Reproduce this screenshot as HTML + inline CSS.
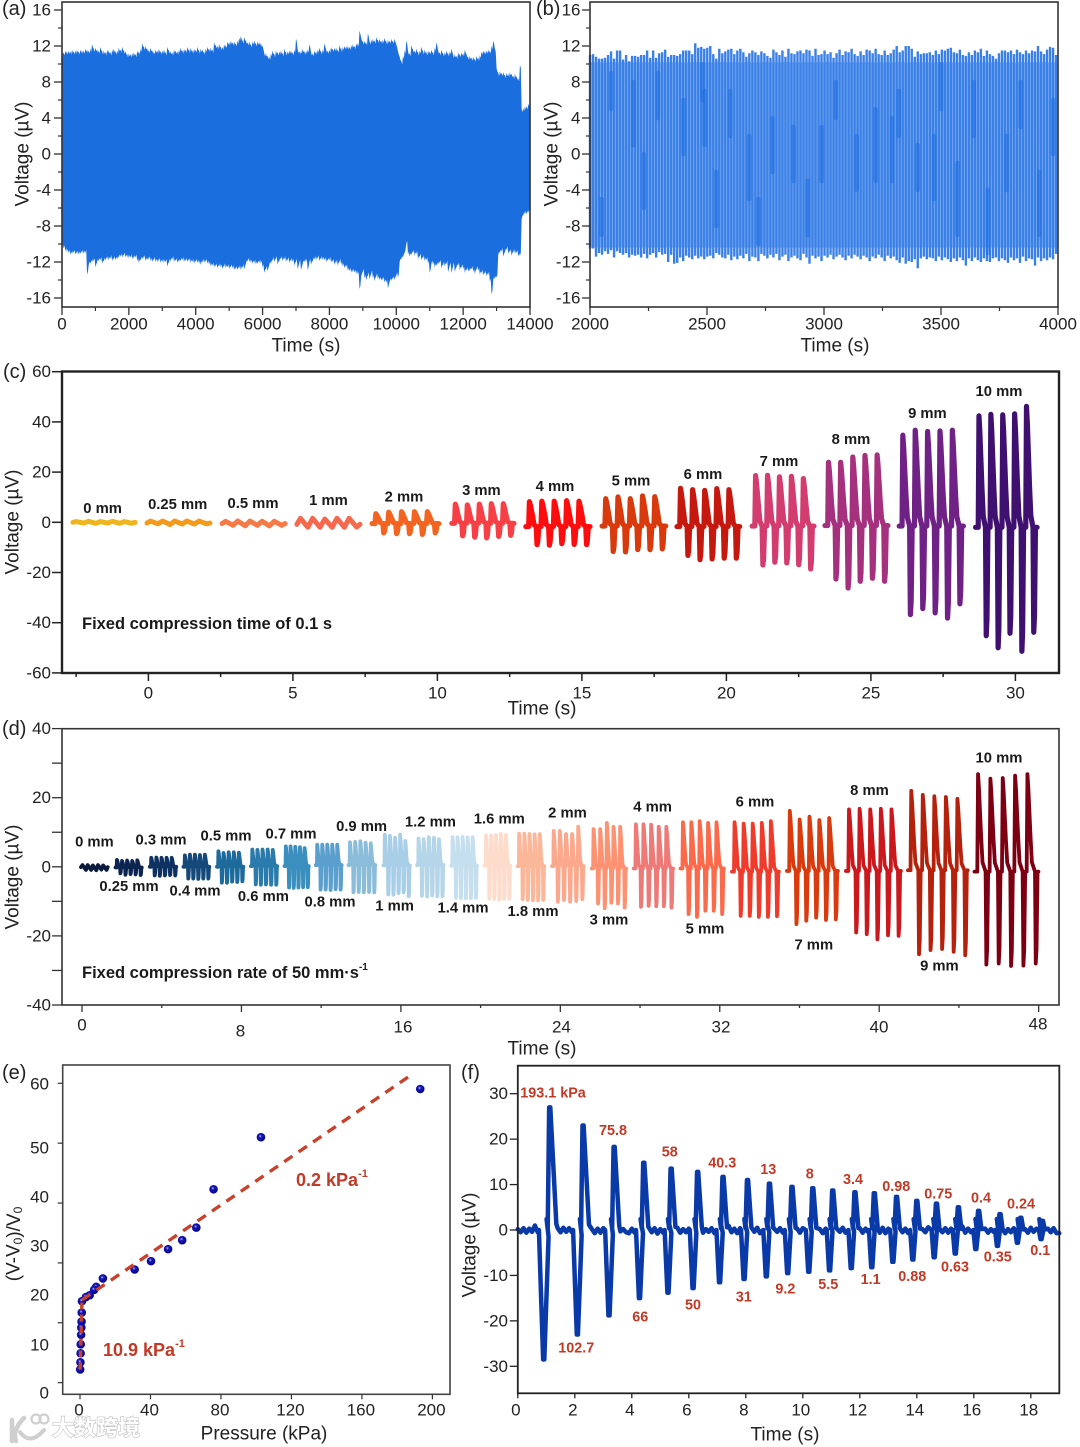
<!DOCTYPE html>
<html lang="en">
<head>
<meta charset="utf-8">
<title>Voltage response charts</title>
<style>
html,body{margin:0;padding:0;background:#fff;}
svg{display:block;font-family:"Liberation Sans","Noto Sans CJK SC",sans-serif;fill:#222;}
.tk{font-size:17px;}
.ti{font-size:19px;}
.pl{font-size:20px;}
.bl{font-size:14.8px;font-weight:bold;fill:#1a1a1a;}
.rl{font-size:14.4px;font-weight:bold;fill:#c23a26;}
.fx{font-size:16.5px;font-weight:bold;fill:#1a1a1a;}
.sl{font-size:18px;font-weight:bold;fill:#c23a26;}
text{dominant-baseline:central;}
</style>
</head>
<body>
<svg id="fig" xmlns="http://www.w3.org/2000/svg" width="1080" height="1447" viewBox="0 0 1080 1447">
<rect width="1080" height="1447" fill="#fff"/>

<g id="panel-a">
  <g id="a-marks"></g>
  <rect x="62" y="2" width="468" height="305" fill="none" stroke="#333" stroke-width="1.6"/>
  <g id="a-axes"></g>
  <text class="pl" x="2" y="9">(a)</text>
  <text class="ti" transform="translate(23,154) rotate(-90)" text-anchor="middle">Voltage (µV)</text>
  <text class="ti" x="306" y="346" text-anchor="middle">Time (s)</text>
</g>

<g id="panel-b">
  <g id="b-marks"></g>
  <rect x="590" y="2" width="468" height="305" fill="none" stroke="#333" stroke-width="1.6"/>
  <g id="b-axes"></g>
  <text class="pl" x="536" y="9">(b)</text>
  <text class="ti" transform="translate(552,154) rotate(-90)" text-anchor="middle">Voltage (µV)</text>
  <text class="ti" x="835" y="346" text-anchor="middle">Time (s)</text>
</g>

<g id="panel-c">
  <g id="c-marks"></g>
  <rect x="62" y="371.5" width="997" height="301.5" fill="none" stroke="#222" stroke-width="2.4"/>
  <g id="c-axes"></g>
  <text class="pl" x="3" y="372">(c)</text>
  <text class="ti" transform="translate(13,522) rotate(-90)" text-anchor="middle">Voltage (µV)</text>
  <text class="ti" x="542" y="709" text-anchor="middle">Time (s)</text>
  <text class="fx" x="82" y="624" textLength="250">Fixed compression time of 0.1 s</text>
  <g class="bl" text-anchor="middle">
    <text class="bl" x="102.6" y="509">0 mm</text>
    <text class="bl" x="177.7" y="505">0.25 mm</text>
    <text class="bl" x="253" y="504">0.5 mm</text>
    <text class="bl" x="328.5" y="501">1 mm</text>
    <text class="bl" x="404" y="497.7">2 mm</text>
    <text class="bl" x="481.4" y="491">3 mm</text>
    <text class="bl" x="555" y="487">4 mm</text>
    <text class="bl" x="631" y="481.7">5 mm</text>
    <text class="bl" x="703" y="475">6 mm</text>
    <text class="bl" x="779" y="462">7 mm</text>
    <text class="bl" x="851" y="440">8 mm</text>
    <text class="bl" x="927.4" y="414">9 mm</text>
    <text class="bl" x="999" y="392">10 mm</text>
  </g>
</g>

<g id="panel-d">
  <g id="d-marks"></g>
  <rect x="62" y="728.7" width="997" height="276.3" fill="none" stroke="#333" stroke-width="1.6"/>
  <g id="d-axes"></g>
  <g class="tk" text-anchor="middle">
    <text class="tk" x="82" y="1025">0</text>
    <text class="tk" x="240.5" y="1031">8</text>
    <text class="tk" x="403" y="1027">16</text>
    <text class="tk" x="561.4" y="1027">24</text>
    <text class="tk" x="721" y="1027">32</text>
    <text class="tk" x="879" y="1027">40</text>
    <text class="tk" x="1038" y="1024">48</text>
  </g>
  <text class="pl" x="2" y="729">(d)</text>
  <text class="ti" transform="translate(13,877) rotate(-90)" text-anchor="middle">Voltage (µV)</text>
  <text class="ti" x="542" y="1049" text-anchor="middle">Time (s)</text>
  <text class="fx" x="82" y="973">Fixed compression rate of 50 mm·s<tspan font-size="10" dy="-6">-1</tspan></text>
  <g class="bl" text-anchor="middle">
    <text class="bl" x="94.4" y="842.3">0 mm</text>
    <text class="bl" x="129" y="887">0.25 mm</text>
    <text class="bl" x="161" y="840.3">0.3 mm</text>
    <text class="bl" x="195" y="891.3">0.4 mm</text>
    <text class="bl" x="226" y="836.3">0.5 mm</text>
    <text class="bl" x="263.4" y="897">0.6 mm</text>
    <text class="bl" x="291" y="834.3">0.7 mm</text>
    <text class="bl" x="330" y="902.7">0.8 mm</text>
    <text class="bl" x="361.6" y="827">0.9 mm</text>
    <text class="bl" x="394.6" y="906.7">1 mm</text>
    <text class="bl" x="430.4" y="822.3">1.2 mm</text>
    <text class="bl" x="463" y="908.7">1.4 mm</text>
    <text class="bl" x="499.3" y="819.3">1.6 mm</text>
    <text class="bl" x="533" y="912">1.8 mm</text>
    <text class="bl" x="567.5" y="813.7">2 mm</text>
    <text class="bl" x="609" y="920.7">3 mm</text>
    <text class="bl" x="652.6" y="807.3">4 mm</text>
    <text class="bl" x="705" y="929.3">5 mm</text>
    <text class="bl" x="755" y="802.3">6 mm</text>
    <text class="bl" x="813.8" y="945.7">7 mm</text>
    <text class="bl" x="869.5" y="791">8 mm</text>
    <text class="bl" x="939.4" y="966.3">9 mm</text>
    <text class="bl" x="999" y="758.7">10 mm</text>
  </g>
</g>

<g id="panel-e">
  <rect x="62.7" y="1065" width="387.3" height="329.3" fill="none" stroke="#444" stroke-width="1.6"/>
  <g id="e-axes"></g>
  <g id="e-marks"></g>
  <g class="tk" text-anchor="end">
    <text class="tk" x="49" y="1084">60</text>
    <text class="tk" x="49" y="1148">50</text>
    <text class="tk" x="49" y="1197">40</text>
    <text class="tk" x="49" y="1246">30</text>
    <text class="tk" x="49" y="1295">20</text>
    <text class="tk" x="49" y="1345">10</text>
    <text class="tk" x="49" y="1393">0</text>
  </g>
  <text class="pl" x="2" y="1073">(e)</text>
  <text class="ti" transform="translate(14,1244) rotate(-90)" text-anchor="middle">(V-V<tspan font-size="12" dy="4">0</tspan><tspan dy="-4">)/V</tspan><tspan font-size="12" dy="4">0</tspan></text>
  <text class="ti" x="264" y="1434" text-anchor="middle">Pressure (kPa)</text>
  <text class="sl" x="296" y="1180">0.2 kPa<tspan font-size="11" dy="-6">-1</tspan></text>
  <text class="sl" x="103" y="1350">10.9 kPa<tspan font-size="11" dy="-6">-1</tspan></text>
</g>

<g id="panel-f">
  <g id="f-marks"></g>
  <rect x="517.8" y="1065.7" width="541.5" height="327.6" fill="none" stroke="#222" stroke-width="1.8"/>
  <g id="f-axes"></g>
  <text class="pl" x="461" y="1073">(f)</text>
  <text class="ti" transform="translate(470,1245) rotate(-90)" text-anchor="middle">Voltage (µV)</text>
  <text class="ti" x="785" y="1435" text-anchor="middle">Time (s)</text>
  <g class="rl" text-anchor="middle">
    <text class="rl" x="553" y="1093.3">193.1 kPa</text>
    <text class="rl" x="613" y="1131">75.8</text>
    <text class="rl" x="669.8" y="1152.3">58</text>
    <text class="rl" x="722.2" y="1163.7">40.3</text>
    <text class="rl" x="768.2" y="1170">13</text>
    <text class="rl" x="809.8" y="1174.3">8</text>
    <text class="rl" x="853" y="1180">3.4</text>
    <text class="rl" x="896.2" y="1187">0.98</text>
    <text class="rl" x="938.2" y="1194.3">0.75</text>
    <text class="rl" x="981" y="1198.7">0.4</text>
    <text class="rl" x="1021" y="1204.3">0.24</text>
    <text class="rl" x="576.2" y="1348.7">102.7</text>
    <text class="rl" x="640.2" y="1317.3">66</text>
    <text class="rl" x="693" y="1305.3">50</text>
    <text class="rl" x="743.8" y="1297.7">31</text>
    <text class="rl" x="785.4" y="1289.7">9.2</text>
    <text class="rl" x="828.2" y="1285">5.5</text>
    <text class="rl" x="870.6" y="1280">1.1</text>
    <text class="rl" x="912.2" y="1277">0.88</text>
    <text class="rl" x="955" y="1267.3">0.63</text>
    <text class="rl" x="997.8" y="1257.7">0.35</text>
    <text class="rl" x="1040.2" y="1251">0.1</text>
  </g>
</g>

<g>
  <g fill="none" stroke="#cfcfcf" stroke-width="3" stroke-linecap="round">
    <path d="M12 1420 L12 1441 M16 1441 Q12 1430 24 1418" stroke-width="4.5"/>
    <path d="M20 1432 Q30 1446 44 1430" stroke-width="4"/>
    <circle cx="36" cy="1419" r="4.5" stroke-width="2.2"/>
    <circle cx="44" cy="1419" r="4.5" stroke-width="2.2"/>
  </g>
  <text x="52" y="1428" font-size="22" textLength="88" font-weight="bold" style="font-family:'Liberation Sans','Noto Sans CJK SC',sans-serif;fill:#fff;stroke:#c4c4c4;stroke-width:1.3px;paint-order:stroke;">大数跨境</text>
</g>

<script>
/* ---------- panel a data: envelope read every 50 s ---------- */
const aStep = 50;
const aTop = [
11.4,11.3,11.5,11.4,11.5,11.4,11.6,11.4,11.5,11.6,11.4,11.6,11.5,11.5,11.7,11.6,11.5,11.7,12.2,11.7,
11.8,11.6,11.5,11.9,11.4,11.5,11.3,11.6,11.5,11.3,11.6,11.7,11.4,11.5,11.8,11.6,11.9,11.5,11.4,11.1,
11.2,11.1,11.2,11.3,11.1,11.5,11.4,11.7,12.3,11.9,12,11.7,11.6,11.8,11.5,11.4,11.6,11.5,11.7,11.4,
11.5,11.6,11.3,11.9,11.5,11.4,11.3,11.6,11.5,11.4,11.6,11.8,11.5,11.7,11.6,11.9,11.6,11.8,11.5,11.7,
11.6,11.9,11.5,11.7,11.6,11.4,11.7,11.9,11.7,11.8,11.6,12.4,12.1,12,12.2,11.9,11.9,12.2,12.1,12.5,
12.4,12.6,12.4,12.5,12.3,12.6,12.9,13.1,12.6,13,12.6,12.4,12.5,12.2,12.5,12.6,12.3,12.5,12.4,12.3,
12,11.2,11.2,10.9,10.8,11.2,11.5,11.1,11.5,11.3,11.4,11.5,11.2,11.7,11.3,11.4,11.5,11.5,11.3,11.6,
12.8,11.6,11.4,11.5,11.7,11.4,11.5,11.6,12.2,11.3,11.2,11.5,11.4,11.6,11.8,11.4,11.6,12.3,11.6,11.5,
11.6,11.9,11.7,11.8,11.8,11.6,12.1,11.7,11.9,12,12,12,11.9,12.1,12.2,12,12.3,12.3,13.7,12.9,
12.5,12.6,12.4,13.4,12.5,12.7,12.8,12.6,13,12.7,12.8,12.6,12.7,12.9,12.5,12.7,12.6,12.8,12.6,12.8,
12.2,11.4,10.8,10.3,10.9,11.5,12.6,11.4,11.2,12.1,11.6,11.5,11.7,11.3,11.5,11.9,11.4,11.6,11.3,11.5,
11.4,11.6,11.3,11.8,12.4,11.5,11.3,11.6,11.2,11.3,11.5,11.2,11.4,11.7,11,11.1,10.9,11.3,11.1,11.3,
11.2,11.6,11.1,10.8,10.9,10.7,10.8,10.6,10.9,10.7,11,11.4,11.5,11.4,11.5,11.6,11.5,12,12.6,11.7,
9.5,9,9.2,9,9.1,8.8,9,8.9,9.1,8.9,8.7,8.9,8.6,8.4,9.9,5,5.1,5.3,5.3,5.6,5.7];
const aBottom = [
-10.4,-10.5,-10.8,-10.9,-11,-11.2,-11.1,-11,-11.2,-11.1,-11.2,-11.1,-11,-11.1,-11,-13.4,-12.3,-12.2,-12,-11.9,
-12.6,-12,-11.9,-11.8,-12.2,-11.9,-11.8,-11.7,-11.8,-11.6,-11.9,-11.7,-11.8,-11.7,-11.5,-11.4,-11.5,-11.3,-11.5,-11.5,
-11.6,-11.5,-11.7,-11.6,-11.5,-11.9,-12.1,-11.8,-11.7,-11.6,-11.9,-11.8,-11.7,-11.9,-12,-11.8,-12,-12,-11.9,-12.1,
-12,-12.1,-12,-12.5,-12,-11.9,-11.7,-12,-11.9,-12.1,-12,-11.9,-11.8,-12,-11.9,-12,-11.9,-12.1,-12,-12.2,
-12,-12.1,-12.2,-12.3,-12,-12.1,-12,-12.2,-12.3,-12.5,-12.4,-12.6,-12.5,-12.7,-12.5,-12.6,-12.8,-12.5,-12.7,-12.6,
-12.8,-12.6,-12.7,-12.9,-12.8,-12.9,-12.7,-12.9,-12.6,-12.8,-12.2,-11.9,-12,-12.1,-12.2,-12.1,-12.3,-12.2,-12.1,-12.2,
-12.6,-13.2,-12.8,-13,-12.3,-12.2,-11.8,-12,-11.7,-12.3,-11.9,-11.7,-11.9,-11.7,-12,-11.8,-12.1,-11.9,-12,-12.4,
-12,-12.8,-12.1,-12.9,-12.2,-12,-12,-12.9,-12,-12.3,-11.9,-11.7,-11.8,-11.6,-11.9,-11.7,-11.8,-11.8,-12,-11.9,
-11.8,-12.1,-12,-12.3,-12.1,-12.4,-12,-12.3,-12.5,-12.7,-12.6,-13,-13,-13.2,-13.1,-13.2,-13.3,-13.4,-15,-13.6,
-13.1,-13.8,-14,-13.5,-13.9,-13.3,-13.8,-14.1,-13.6,-13.9,-14,-14.1,-14,-14.3,-14.3,-14.9,-14.2,-14.1,-13.9,-14,
-13.5,-13.7,-12,-11.7,-11.5,-11,-10,-11.2,-11.4,-11.2,-11,-11.3,-11.1,-11.7,-11.4,-11.8,-11.6,-11.9,-11.8,-12.2,
-13.2,-12.2,-12.3,-12.6,-12.4,-12.3,-12.1,-12.7,-12.3,-12.5,-12.2,-13.1,-12.4,-13.2,-12.4,-13.1,-12.6,-12.4,-12.9,-12.6,
-12.8,-13.2,-12.9,-13.1,-13,-12.8,-13.1,-13.3,-12.8,-13,-13.4,-13.2,-13.5,-13.3,-13.6,-13.4,-14.2,-15.6,-14,-13.9,
-13.7,-11.2,-11,-10.8,-11.4,-10.9,-10.6,-11.1,-10.9,-11.3,-10.9,-11.1,-11,-11.4,-11.3,-7.2,-6.8,-6.7,-6.7,-6.5,-6.4];
const aYTicks = [16,12,8,4,0,-4,-8,-12,-16];
const aYMinor = [14,10,6,2,-2,-6,-10,-14];
const aXTicks = [0,2000,4000,6000,8000,10000,12000,14000];
const aXMinor = [1000,3000,5000,7000,9000,11000,13000];

/* ---------- panel b data: one top and bottom per cycle ---------- */
const bStart = 2000;
const bCycle = 12.85;
const bTop = [
11,11.1,10.8,10.6,10.6,10.7,11,11.4,10.6,11.5,11.5,10.5,11,10.3,10.9,10.9,10.8,11,11,11.5,
10.7,11.5,10.7,11.2,11.3,11.6,10.8,11,11,10.9,11.1,11.5,11.5,11.5,11.1,12.3,11.8,11.9,11.7,11.8,
12,11.1,10.6,11.7,11.2,11.4,11.6,11.7,11.1,11.5,11.7,11.3,10.8,11.2,11.5,11.3,11,11.4,11.2,10.9,
10.7,11.6,11.3,11,11.5,10.8,11.7,11.2,11.1,11.4,11.5,11.2,11.6,11.5,10.9,11.7,11,11.1,11.5,11.1,
11.3,10.7,11.2,11.6,11,11.4,11.3,11.7,11.1,10.9,11.4,11,11.6,11.5,11.2,11.7,11.1,11,11.5,11,
11.2,11.6,12,11.3,11.5,12,12,11.7,10.8,11.4,11.1,11.2,11.2,11.3,11,11.5,11.1,11.6,11.5,11.7,
11.8,11.3,11.2,11.6,11,10.9,11.3,11,11.5,11.3,11.7,10.9,11.5,11.1,10.9,10.6,11.2,11.5,11.5,11.3,
11.5,11.1,11.6,11.3,11.1,11.5,11.2,11.5,11.4,12,11.4,11.1,11.6,11.9,11.8,11];
const bBottom = [
-10.5,-10.5,-11.4,-11,-11.2,-10.8,-11.1,-10.7,-11.5,-10.8,-11,-11.2,-11,-11.5,-11.2,-11.3,-11.2,-11.5,-11.1,-11.6,
-11.2,-11,-11.5,-10.9,-11.2,-11.1,-12,-11.2,-12.2,-12.1,-11.5,-11.9,-11.3,-11.5,-11.7,-11.3,-11.6,-11.4,-11.7,-11.4,
-11.3,-11.6,-11,-11.2,-11.5,-11.6,-11.2,-11.8,-11.4,-11.7,-11.3,-11.6,-11.1,-11.9,-11.4,-11.5,-11.9,-11.1,-11.3,-11.6,
-11.2,-11.5,-11.1,-11.8,-11.4,-11.2,-11.9,-11.5,-11.3,-11.6,-11.8,-11.1,-11.5,-12.2,-11.3,-11.6,-11.4,-11.9,-11.3,-11.5,
-11.2,-11.7,-11.4,-11.2,-11.5,-11.8,-11.3,-11.6,-11.2,-11.4,-11.7,-11.3,-11.5,-11.9,-11.4,-11.6,-11.2,-11.5,-11.9,-11.3,
-11.6,-11.4,-11.8,-12.1,-11.5,-12.2,-11.9,-12,-11.7,-12.7,-11.6,-11.4,-11.7,-11.5,-11.6,-11.9,-11.4,-11.8,-11.5,-11.7,
-12,-11.6,-11.9,-11.5,-11.8,-12.4,-11.6,-11.9,-11.5,-11.8,-12,-11.6,-11.9,-12,-11.6,-11.5,-11.9,-11.6,-11.8,-12.1,
-11.5,-11.8,-11.6,-12.1,-11.4,-11.9,-11.6,-11.7,-12.4,-11.5,-11.9,-11.6,-11.8,-11.5,-11.7,-11.1];
const bStreakTime = [2050,2090,2185,2230,2290,2400,2480,2490,2540,2600,2680,2720,2780,2870,2930,2990,3050,3140,3220,3290,3320,3400,3470,3500,3570,3640,3700,3780,3840,3920,3980];
const bStreakHigh = [-5,9,8,0,9,6,10,7,-2,7,2,-5,4,3,-3,3,8,2,5,4,7,1,2,10,-1,8,-4,2,8,-2,6];
const bStreakLow = [-9,5,1,-6,4,0,6,1,-8,2,-5,-10,-2,-3,-9,-3,4,-4,-3,-3,2,-4,-5,5,-9,2,-11,-4,3,-9,0];
const bYTicks = [16,12,8,4,0,-4,-8,-12,-16];
const bYMinor = [14,10,6,2,-2,-6,-10,-14];
const bXTicks = [2000,2500,3000,3500,4000];
const bXMinor = [2250,2750,3250,3750];

/* ---------- panel c data ---------- */
const cStart = [-2.61,-0.05,2.55,5.14,7.74,10.5,13.06,15.7,18.29,20.89,23.41,25.98,28.62];
const cEnd = [-0.46,2.13,4.73,7.32,10.05,12.65,15.28,17.9,20.46,23.03,25.59,28.2,30.75];
const cBase = [0,-0.3,-0.5,-0.8,-0.5,-0.4,-1.7,-1.5,-1.7,-1.5,-1.3,-1.5,-2];
const cPeaks = [
[0.3,0.4,0.3,0.4,0.3],[0.5,0.5,0.5,0.5,0.5],[0.4,0.5,0.5,0.4,0.4],[1.6,1.6,1.3,1.6,1.6],
[3.4,4,4.2,4.2,4.2],[7.2,6.9,7.2,7.4,7.4],[8.2,8.4,8.4,8.6,8.4],[9.4,10.1,9.4,10.5,10.2],
[13.5,13,12.7,13.4,13],[18.6,18.7,18.1,18.3,17.4],[23.9,23.9,26,26.6,26.8],
[34.7,36.7,36.2,36.4,36.7],[42.4,43,42.8,43.2,46.2]];
const cTroughs = [
[-0.3,-0.4,-0.3,-0.4,-0.4],[-0.6,-0.9,-0.7,-0.7,-0.6],[-1.2,-1.4,-1.2,-1.4,-1.2],[-2,-2,-2,-2,-1.9],
[-4.2,-4.5,-4.5,-4.8,-4.2],[-5.4,-5.9,-6.2,-5.6,-5.2],[-8.9,-9.1,-8.5,-8.8,-8.9],[-11.6,-11.8,-10.9,-10.9,-10.6],
[-13.2,-14.9,-14.6,-14.3,-14.3],[-17,-15.9,-16.2,-16.9,-18.6],[-22.6,-26.2,-23.5,-22.3,-23.5],
[-36.8,-34.4,-36.1,-38.2,-32.5],[-45.2,-50,-44.2,-51.4,-43.8]];
const cColors = ["#eeb61c","#f49a1a","#f57a45","#f56a4f","#f2641f","#f74045","#fd0d0d","#d8390d","#c5190f","#d23c6e","#a5307e","#6f2186","#3f106f"];
const cNames = ["0mm","0.25mm","0.5mm","1mm","2mm","3mm","4mm","5mm","6mm","7mm","8mm","9mm","10mm"];
const cYTicks = [60,40,20,0,-20,-40,-60];
const cXTicks = [0,5,10,15,20,25,30];
const cXMinor = [-2.5,2.5,7.5,12.5,17.5,22.5,27.5];

/* ---------- panel d data ---------- */
const dStart = [-0.05,1.68,3.40,5.09,6.77,8.47,10.16,11.73,13.37,15.12,16.81,18.52,20.2,21.86,23.58,25.57,27.68,30.03,32.61,35.37,38.33,41.44,44.78];
const dEnd = [1.29,3.0,4.73,6.39,8.1,9.8,11.38,13.03,14.72,16.45,18.14,19.82,21.49,23.2,25.17,27.3,29.66,32.21,34.97,37.93,41.09,44.44,47.99];
const dBase = [-0.1,-0.2,0,0,0,0.2,0.2,0.5,0.5,0.4,0.5,0.3,0.3,0.2,0.2,-0.5,-0.5,-0.5,-1.4,-1.2,-1.2,-1,-1.4];
const dPeaks = [
[0.5,0.5,0.4,0.5,0.4],[2,1.7,1.8,1.7,1.9],[2.6,2.7,2.6,2.6,2.6],[3.3,3.5,3.5,3.4,3.5],
[4.5,4,4.2,4.2,4.1],[5,4.9,5,5,4.9],[5.9,5.9,5.8,5.7,5.4],[6.4,6.4,6.4,6.4,6.4],
[7.1,7.2,7.4,7,6.8],[9.3,9,8.4,9.3,7.5],[8.2,8,8.6,8.4,8],[8.6,8.5,8.7,8.5,8.6],
[9.1,9.1,9.2,9.5,9.2],[9.6,9.6,9.5,9.4,9.5],[10.4,10.4,9.5,9.5,11.6],[10.9,10.9,12.7,11.6,11.6],
[12.3,12.3,12.2,11.6,11.6],[12.9,12.9,13.2,12.7,12.9],[12.9,12.5,12.5,12.7,13.2],[16.2,13.7,14.5,13.5,14.1],
[16.6,16.8,16.6,16.8,16.6],[22,20.8,20.4,20.2,19.7],[26.8,25.5,25.7,26.4,26.8]];
const dTroughs = [
[-0.9,-0.9,-1,-0.8,-0.9],[-1.9,-2.3,-2.1,-2.2,-2.4],[-2.5,-2.6,-2.5,-2.4,-2.5],[-3.4,-3.4,-3.5,-3.4,-3.4],
[-4.6,-4.6,-4.3,-4.4,-4.2],[-5.1,-5.2,-5.1,-5.2,-5.2],[-6,-6.1,-6,-5.9,-5.9],[-6.6,-6.6,-6.7,-6.5,-6.6],
[-7.4,-7.3,-7.4,-7.3,-7.4],[-8,-8.1,-7.6,-7.4,-8.5],[-8.4,-8.6,-8.3,-8.5,-8.5],[-9,-9.1,-9.1,-9.1,-9],
[-9.2,-9.3,-9.5,-9.3,-9.2],[-9.4,-9.6,-9.7,-9.7,-9.6],[-10.1,-9.6,-10.1,-9.9,-9.4],[-10.6,-12,-10.4,-10.6,-11.8],
[-11.6,-11.3,-11.4,-11.4,-11.8],[-13.7,-14.5,-12.7,-12.7,-13.7],[-14.2,-14.2,-14.5,-14.5,-14.3],[-16.6,-15.6,-14.7,-15.4,-15.2],
[-19,-19.5,-21,-19.8,-20],[-25.3,-24.1,-23.8,-24.6,-25.6],[-28.3,-28,-28.7,-28.6,-28]];
const dColors = ["#0a1a3c","#0c2550","#0d3262","#14497a","#1d6a9c","#2a7bab","#3b8fbf","#5a9fcd","#8bbddb","#a9cfe8","#b5d5e8","#c6dfee","#fddccb","#fbb79a","#fca88c","#fc9272","#ee7a78","#fb6a4a","#ef3b2c","#d93a0e","#cb181d","#b4210c","#7d0012"];
const dNames = ["0mm","0.25mm","0.3mm","0.4mm","0.5mm","0.6mm","0.7mm","0.8mm","0.9mm","1mm","1.2mm","1.4mm","1.6mm","1.8mm","2mm","3mm","4mm","5mm","6mm","7mm","8mm","9mm","10mm"];
const dYTicks = [40,30,20,10,0,-10,-20,-30,-40];
const dYLabels = [40,20,0,-20,-40];
const dXTicks = [0,8,16,24,32,40,48];
const dXMinor = [4,12,20,28,36,44];

/* ---------- panel e data ---------- */
const ePressure = [193.1,102.7,75.8,66,58,50,40.3,31,13,9.2,8,5.5,3.4,1.1,0.98,0.88,0.75,0.63,0.4,0.35,0.24,0.1];
const eResponse = [59.05,51,42.3,35.9,33.8,32.3,30.3,28.9,27.4,26,25.5,24.6,24.3,23.6,21.7,20.2,19.2,18,16.4,14.9,13.4,12.2];
const eFitLowP = [0.1,1.1];
const eFitLowV = [12.2,23.4];
const eFitHighP = [1.1,189];
const eFitHighV = [23.8,61.6];
const eYTicks = [60,50,40,30,20,10];
const eXTicks = [0,40,80,120,160,200];

/* ---------- panel f data ---------- */
const fPeakTime = [1.12,2.29,3.38,4.42,5.38,6.31,7.2,8.06,8.83,9.62,10.35,11.05,11.83,12.51,13.29,14.0,14.69,15.46,16.17,16.92,17.65,18.41];
const fPeakValue = [27,23,18.3,14.8,13.5,12.8,11.7,11,10.2,9.5,9.2,8.7,8.3,8.1,7.3,6.4,5.8,5,4.2,3.5,2.7,2];
const fTroughTime = [0.91,2.09,3.2,4.27,5.27,6.15,7.08,7.94,8.72,9.47,10.21,10.94,11.7,12.42,13.16,13.86,14.61,15.35,16.07,16.83,17.53,18.36];
const fTroughValue = [-28.5,-23,-18.8,-15,-13.8,-12.8,-11.5,-10.8,-10.2,-9.5,-9.2,-8.9,-8.4,-8.2,-7,-6.5,-6,-5.2,-4.2,-3.5,-2.8,-2];
const fBaseStep = 0.1;
const fBaseline = [
0.2,-0.5,0.4,-0.6,0.3,-0.4,1,-0.5,0.5,-0.6,0.4,-0.3,0.5,-0.6,0.4,-0.5,0.5,-0.4,0.4,-0.5,
0.3,-0.5,0.4,-0.3,-0.8,-0.5,0.2,-0.7,0.3,-0.6,0.4,-0.4,-0.6,0.3,-0.5,0.4,-0.3,0.2,-0.5,-0.7,
0.3,-0.6,0.5,-0.4,0.4,-0.6,0.3,-0.5,0.4,-0.8,0.2,-0.6,0.4,-0.5,0.3,-0.4,0.5,-0.6,0.2,-0.5,
0.3,-0.7,0.4,-0.5,0.3,-0.6,0.2,-0.4,0.4,-0.7,0.3,-0.5,0.4,-0.6,0.9,-0.5,0.3,-0.7,0.4,-0.5,
0.3,-0.6,0.2,-0.4,0.5,-0.7,0.3,-0.5,0.2,-0.8,0.3,-0.4,0.4,-0.6,0.2,-0.5,0.5,-0.4,0.3,-0.6,
0.4,-0.5,0.9,-0.5,0.3,-0.6,0.2,-0.7,0.3,-0.5,0.4,-0.6,0.3,-0.4,0.5,-0.6,0.2,-0.7,0.3,-0.5,
0.4,-0.6,0.3,-0.5,0.6,-0.4,0.2,-0.6,0.5,-0.7,0.3,-0.4,0.2,-0.6,0.4,-0.5,0.3,-0.7,0.4,-0.5,
0.3,-0.6,0.2,-0.5,0.6,-0.4,0.3,-0.7,0.2,-0.5,0.4,-0.6,0.3,-0.5,0.2,-0.4,0.8,-0.6,0.3,-0.5,
0.2,-0.7,0.4,-0.5,0.3,-0.6,0.2,-0.4,0.5,-0.6,0.3,-0.7,0.2,-0.5,0.4,-0.8,0.3,-0.5,0.2,-0.6,
0.5,-0.4,0.3,-0.6,0.2,-0.9,0.3,-0.5,0.4,-0.7];
const fYTicks = [30,20,10,0,-10,-20,-30];
const fXTicks = [0,2,4,6,8,10,12,14,16,18];

/* ---------- axis functions ---------- */
const xA = t => 62 + t * 468 / 14000;
const yA = v => 154 - 9 * v;
const xB = t => 590 + (t - 2000) * 468 / 2000;
const yB = v => 154 - 9 * v;
const xC = t => 148.4 + 28.9 * t;
const yC = v => 522.3 - 2.51 * v;
const xD = t => 82 + 19.93 * t;
const yD = v => 866.8 - 3.455 * v;
const xE = p => 80 + 1.762 * p;
const yE = v => 1083.3 + (60 - v) * 5.987;
const xF = t => 517.8 + 28.5 * t;
const yF = v => 1230 - 4.543 * v;

const NS = "http://www.w3.org/2000/svg";
function mk(parent, tag, attrs) {
  const el = document.createElementNS(NS, tag);
  for (const k in attrs) el.setAttribute(k, attrs[k]);
  parent.appendChild(el);
  return el;
}
function tickX(g, panel, values, sx, yBase, len, color, width) {
  values.forEach(v => {
    const el = mk(g, "line", {x1: sx(v), x2: sx(v), y1: yBase, y2: yBase + len, stroke: color, "stroke-width": width});
    
    
  });
}
function tickY(g, panel, values, sy, xBase, len, color, width) {
  values.forEach(v => {
    const el = mk(g, "line", {x1: xBase - len, x2: xBase, y1: sy(v), y2: sy(v), stroke: color, "stroke-width": width});
    
    
  });
}
function labelX(g, panel, values, sx, y, dx) {
  values.forEach(v => {
    const el = mk(g, "text", {x: sx(v) + dx, y: y, "text-anchor": "middle", class: "tk"});
    el.textContent = String(v);
    
    
  });
}
function labelY(g, panel, values, sy, x) {
  values.forEach(v => {
    const el = mk(g, "text", {x: x, y: sy(v), "text-anchor": "end", class: "tk"});
    el.textContent = String(v);
    
    
  });
}
function line(pts) {
  return pts.map((p, i) => (i ? "L" : "M") + p[0].toFixed(2) + " " + p[1].toFixed(2)).join("");
}
function burst(start, end, peaks, troughs, base, sx, sy, gap, softLimit) {
  const D = end - start;
  const pts = [[start, base]];
  const soft = Math.max(...peaks) < softLimit;
  peaks.forEach((P, i) => {
    const pk = start + D * (0.056 + 0.193 * i);
    const tr = pk + D * gap;
    const T = troughs[i];
    if (soft) {
      pts.push([pk, P], [tr, T]);
    } else {
      pts.push([pk - 0.012 * D, base], [pk, P], [pk + 0.014 * D, P * 0.85], [pk + 0.05 * D, P * 0.3],
               [pk + 0.07 * D, base + 0.1 * P], [tr - 0.012 * D, base], [tr, T], [tr + 0.012 * D, T * 0.85], [tr + 0.028 * D, base]);
    }
  });
  pts.push([end, base]);
  return line(pts.map(p => [sx(p[0]), sy(p[1])]));
}

/* ---------- panel a ---------- */
(function () {
  const g = document.getElementById("a-marks");
  const upper = [];
  aTop.forEach((v, i) => {
    upper.push([xA(i * aStep), yA(v)]);
    upper.push([xA((i + 0.5) * aStep), yA(v - 0.35)]);
  });
  const lower = [];
  aBottom.forEach((v, i) => {
    lower.push([xA(i * aStep), yA(v)]);
    lower.push([xA((i + 0.5) * aStep), yA(v + 0.35)]);
  });
  upper.pop();
  lower.pop();
  const el = mk(g, "path", {d: line(upper.concat(lower.reverse())) + "Z", fill: "#1b6ede"});
  
  
  const ax = document.getElementById("a-axes");
  tickY(ax, "a", aYTicks, yA, 62, 8, "#333", 1.3);
  tickY(ax, "a", aYMinor, yA, 62, 4, "#333", 1.2);
  tickX(ax, "a", aXTicks, xA, 307, 8, "#333", 1.3);
  tickX(ax, "a", aXMinor, xA, 307, 4, "#333", 1.2);
  labelY(ax, "a", aYTicks, yA, 51);
  labelX(ax, "a", aXTicks, xA, 324, 0);
})();

/* ---------- panel b ---------- */
(function () {
  const g = document.getElementById("b-marks");
  const n = bTop.length;
  const wash = mk(g, "path", {d: line([[xB(bStart), yB(10.2)], [xB(4000), yB(10.2)], [xB(4000), yB(-10.4)], [xB(bStart), yB(-10.4)]]) + "Z", fill: "#8fb8f2"});
  
  
  for (let i = 0; i < n; i++) {
    const t = bStart + i * bCycle;
    const el = mk(g, "line", {x1: xB(t), x2: xB(t), y1: yB(bTop[i]), y2: yB(bBottom[i]), stroke: "#3a80e6", "stroke-width": 2.4});
    
    
  }
  bStreakTime.forEach((t, i) => {
    const el = mk(g, "line", {x1: xB(t), x2: xB(t), y1: yB(bStreakHigh[i]), y2: yB(bStreakLow[i]), stroke: "#1b6ce2", "stroke-width": 4.5, "stroke-linecap": "round", opacity: 0.5});
    
    
  });
  const ax = document.getElementById("b-axes");
  tickY(ax, "b", bYTicks, yB, 590, 8, "#333", 1.3);
  tickY(ax, "b", bYMinor, yB, 590, 4, "#333", 1.2);
  tickX(ax, "b", bXTicks, xB, 307, 8, "#333", 1.3);
  tickX(ax, "b", bXMinor, xB, 307, 4, "#333", 1.2);
  labelY(ax, "b", bYTicks, yB, 580.5);
  labelX(ax, "b", bXTicks, xB, 324, 0);
})();

/* ---------- panel c ---------- */
(function () {
  const g = document.getElementById("c-marks");
  cStart.forEach((s, i) => {
    const el = mk(g, "path", {d: burst(s, cEnd[i], cPeaks[i], cTroughs[i], cBase[i], xC, yC, 0.118, 3),
      fill: "none", stroke: cColors[i], "stroke-width": i < 4 ? 5 : 5.2, "stroke-linejoin": "round", "stroke-linecap": "round"});
    
    
  });
  const ax = document.getElementById("c-axes");
  tickY(ax, "c", cYTicks, yC, 62, 10, "#222", 1.5);
  tickX(ax, "c", cXTicks, xC, 673, 8, "#222", 1.5);
  tickX(ax, "c", cXMinor, xC, 673, 4, "#222", 1.5);
  labelY(ax, "c", cYTicks, yC, 51);
  labelX(ax, "c", cXTicks, xC, 693, 0);
})();

/* ---------- panel d ---------- */
(function () {
  const g = document.getElementById("d-marks");
  dStart.forEach((s, i) => {
    const el = mk(g, "path", {d: burst(s, dEnd[i], dPeaks[i], dTroughs[i], dBase[i], xD, yD, 0.13, 1),
      fill: "none", stroke: dColors[i], "stroke-width": 3.8, "stroke-linejoin": "round", "stroke-linecap": "round"});
    
    
  });
  const ax = document.getElementById("d-axes");
  tickY(ax, "d", dYTicks, yD, 62, 10, "#333", 1.3);
  tickX(ax, "d", dXTicks, xD, 1005, 7, "#333", 1.3);
  tickX(ax, "d", dXMinor, xD, 1005, 3, "#333", 1.3);
  labelY(ax, "d", dYLabels, yD, 51);
})();

/* ---------- panel e ---------- */
(function () {
  const g = document.getElementById("e-marks");
  const defs = mk(g, "defs", {});
  const grad = mk(defs, "radialGradient", {id: "dotFill", cx: "0.42", cy: "0.38", r: "0.6"});
  mk(grad, "stop", {offset: "0", "stop-color": "#c9c9ff"});
  mk(grad, "stop", {offset: "0.3", "stop-color": "#1616b8"});
  mk(grad, "stop", {offset: "1", "stop-color": "#04048c"});
  ePressure.forEach((p, i) => {
    const el = mk(g, "circle", {cx: xE(p), cy: yE(eResponse[i]), r: 4.3, fill: "url(#dotFill)"});
    
    
  });
  const fit1 = mk(g, "line", {x1: xE(eFitLowP[0]), y1: yE(eFitLowV[0]), x2: xE(eFitLowP[1]), y2: yE(eFitLowV[1]), stroke: "#c8412b", "stroke-width": 3.4, "stroke-dasharray": "7 5"});
  
  
  const fit2 = mk(g, "line", {x1: xE(eFitHighP[0]), y1: yE(eFitHighV[0]), x2: xE(eFitHighP[1]), y2: yE(eFitHighV[1]), stroke: "#c8412b", "stroke-width": 3.4, "stroke-dasharray": "10 7.5"});
  
  
  const ax = document.getElementById("e-axes");
  tickY(ax, "e", eYTicks, yE, 62.7, 5, "#333", 1.2);
  tickX(ax, "e", eXTicks, xE, 1394.3, 5, "#333", 1.2);
  labelX(ax, "e", eXTicks, xE, 1410, -1);
})();

/* ---------- panel f ---------- */
(function () {
  const g = document.getElementById("f-marks");
  const pts = [];
  const windows = fPeakTime.map((pk, i) => {
    const wL = 0.07 + 0.0035 * Math.abs(fTroughValue[i]);
    const wP = 0.07 + 0.006 * fPeakValue[i];
    return [fTroughTime[i] - wL - 0.02, pk + wP + 0.04, wL, wP];
  });
  let next = 0;
  fBaseline.forEach((v, k) => {
    const t = k * fBaseStep;
    while (next < windows.length && t >= windows[next][0]) {
      const w = windows[next], tr = fTroughTime[next], pk = fPeakTime[next];
      const T = fTroughValue[next], P = fPeakValue[next];
      pts.push([tr - w[2], 0], [tr - 0.02, T], [tr + 0.02, T], [tr + w[2], 0.05 * T],
               [pk - 0.11, 2.4], [pk - 0.07, 0.4], [pk - 0.02, P], [pk + 0.02, P], [pk + w[3], 0.05 * P]);
      next++;
    }
    const last = next > 0 ? windows[next - 1][1] : -1;
    if (t > last) pts.push([t, v]);
  });
  pts.push([19, fBaseline[fBaseline.length - 1]]);
  const el = mk(g, "path", {d: line(pts.map(p => [xF(p[0]), yF(p[1])])), fill: "none", stroke: "#0a39a8", "stroke-width": 4.5, "stroke-linejoin": "round", "stroke-linecap": "round"});
  
  
  const ax = document.getElementById("f-axes");
  tickY(ax, "f", fYTicks, yF, 517.8, 8, "#222", 1.3);
  tickX(ax, "f", fXTicks, xF, 1393.3, 5, "#222", 1.3);
  labelY(ax, "f", fYTicks, yF, 508);
  labelX(ax, "f", fXTicks, xF, 1410, -2);
})();
</script>
</svg>
</body>
</html>
